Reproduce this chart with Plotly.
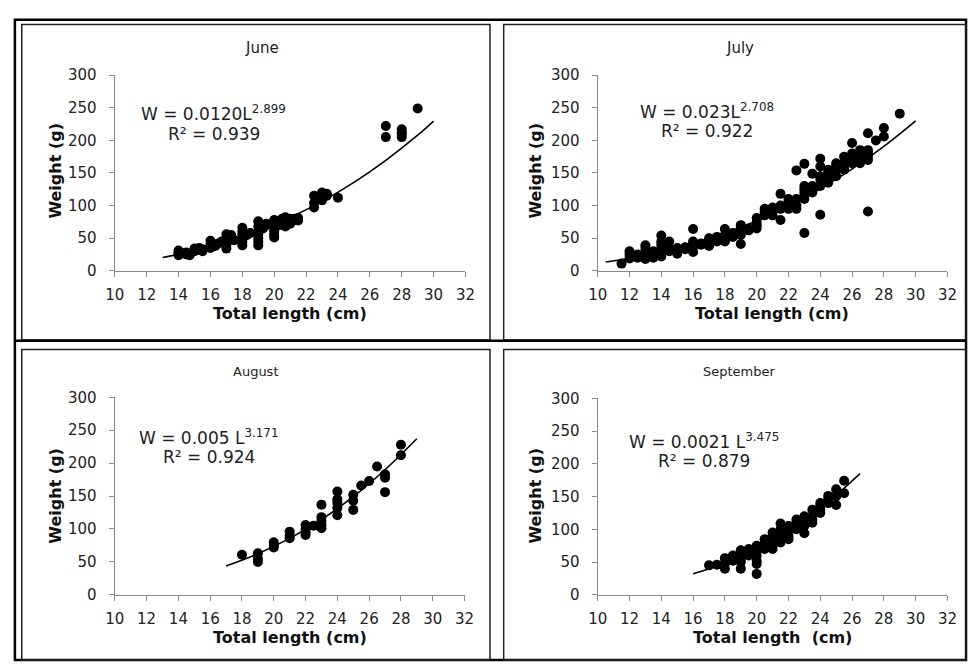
import plotly.graph_objects as go

# ---------------- data ----------------
june_len = [14, 14, 14, 14, 14.3, 14.5, 14.5, 14.7, 15, 15, 15.3, 15.3, 15.5, 15.5,
            16, 16, 16, 16.3, 16.5, 16.7, 17, 17, 17, 17, 17, 17.3, 17.3, 17.5,
            18, 18, 18, 18, 18, 18, 18.3, 18.5, 19, 19, 19, 19, 19, 19, 19, 19.3, 19.5, 19.5,
            20, 20, 20, 20, 20, 20, 20.3, 20.5, 20.5, 20.7, 20.7, 20.7, 20.7, 21, 21, 21,
            21.3, 21.3, 21.5, 21.5, 22.5, 22.5, 22.5, 23, 23, 23, 23, 23.3, 23.3, 24,
            27, 27, 28, 28, 28, 28, 29]
june_wt = [31, 24, 28, 26, 27, 25, 28, 24, 34, 30, 35, 32, 30, 33,
           46, 40, 35, 38, 42, 45, 56, 34, 40, 45, 50, 55, 48, 47,
           66, 39, 45, 50, 55, 60, 55, 58, 76, 39, 45, 50, 55, 60, 68, 65, 70, 72,
           78, 51, 55, 60, 65, 72, 70, 75, 80, 68, 72, 78, 82, 75, 80, 72,
           80, 78, 81, 77, 115, 97, 104, 120, 108, 113, 118, 118, 115, 112,
           222, 205, 217, 210, 205, 212, 249]

july_len = [11.5, 12, 12, 12, 12.5, 12.5, 13, 13, 13, 13, 13, 13.5, 13.5, 13.5,
            14, 14, 14, 14, 14, 14, 14.5, 14.5, 14.5, 15, 15, 15, 15.5, 15.5,
            16, 16, 16, 16, 16, 16.5, 16.5, 17, 17, 17, 17, 17.5, 17.5, 17.5,
            18, 18, 18, 18, 18.5, 18.5, 18.5, 19, 19, 19, 19, 19, 19.5, 19.5,
            20, 20, 20, 20, 20.5, 20.5, 20.5, 21, 21, 21, 21.5, 21.5, 21.5, 21.5,
            22, 22, 22, 22, 22.5, 22.5, 22.5, 22.5, 23, 23, 23, 23, 23, 23, 23,
            23.5, 23.5, 23.5, 23.5, 24, 24, 24, 24, 24, 24, 24.5, 24.5, 24.5, 24.5,
            25, 25, 25, 25, 25.5, 25.5, 25.5, 25.5, 26, 26, 26, 26, 26,
            26.5, 26.5, 26.5, 26.5, 27, 27, 27, 27, 27, 27, 27.5, 28, 28, 29]
july_wt = [11, 30, 19, 25, 25, 20, 39, 30, 22, 18, 35, 25, 20, 30,
           54, 45, 35, 28, 22, 40, 45, 35, 30, 26, 30, 35, 33, 36,
           64, 29, 37, 42, 45, 40, 42, 40, 45, 50, 38, 45, 48, 52,
           64, 50, 55, 45, 55, 58, 52, 70, 41, 55, 60, 65, 62, 65,
           81, 70, 75, 65, 85, 90, 95, 92, 97, 85, 118, 78, 95, 100,
           100, 105, 95, 110, 154, 110, 100, 95, 164, 58, 110, 120, 125, 130, 115,
           149, 125, 130, 120, 172, 86, 160, 145, 140, 130, 140, 150, 155, 135,
           160, 155, 145, 165, 165, 175, 160, 155, 196, 175, 170, 165, 180,
           185, 170, 165, 178, 211, 91, 180, 175, 170, 185, 200, 219, 206, 241]

aug_len = [18, 19, 19, 19, 20, 20, 20, 21, 21, 21, 22, 22, 22, 22, 22.5,
           23, 23, 23, 23, 23, 24, 24, 24, 24, 24, 25, 25, 25, 25.5, 26, 26.5,
           27, 27, 27, 28, 28]
aug_wt = [61, 63, 50, 55, 80, 75, 72, 96, 86, 90, 106, 100, 91, 95, 105,
          137, 118, 112, 101, 106, 157, 145, 140, 132, 121, 152, 143, 129, 166, 173, 195,
          183, 178, 156, 228, 212]

sep_len = [17, 17.5, 18, 18, 18, 18.5, 18.5, 19, 19, 19, 19, 19, 19.5, 19.5, 19.5,
           20, 20, 20, 20, 20, 20, 20.5, 20.5, 20.5, 20.5, 21, 21, 21, 21, 21, 21,
           21.5, 21.5, 21.5, 21.5, 21.5, 22, 22, 22, 22, 22, 22.5, 22.5, 22.5, 22.5,
           23, 23, 23, 23, 23.5, 23.5, 23.5, 23.5, 24, 24, 24, 24, 24.5, 24.5, 24.5,
           25, 25, 25, 25.5, 25.5]
sep_wt = [45, 46, 56, 40, 48, 60, 52, 40, 50, 55, 65, 68, 70, 65, 60,
          32, 47, 52, 60, 68, 75, 70, 75, 80, 85, 80, 85, 90, 95, 75, 70,
          109, 90, 95, 100, 80, 90, 95, 100, 105, 85, 105, 110, 115, 100,
          94, 105, 115, 120, 130, 120, 115, 110, 135, 125, 130, 140, 151, 140, 145,
          161, 137, 150, 174, 155]

# fitted curves as drawn on the chart
june_fit_x = [13, 15, 17, 19, 21, 23, 25, 27, 29, 30]
june_fit_y = [20.3, 30.8, 44.3, 61.2, 81.7, 106.4, 135.5, 169.4, 208, 229.6]
july_fit_x = [10.5, 13, 16, 19, 22, 25, 28, 30]
july_fit_y = [13.4, 23.9, 41.9, 66.7, 99.3, 140.4, 190.9, 230]
aug_fit_x = [17, 19, 21, 23, 25, 27, 29]
aug_fit_y = [43.9, 62.4, 85.7, 114.4, 149, 190, 237]
sep_fit_x = [16, 18, 20, 22, 24, 26.5]
sep_fit_y = [32.1, 48.3, 69.7, 97.1, 131.4, 185]

titles = ["June", "July", "August", "September"]
eq_lines = ["W = 0.0120L<sup>2.899</sup>", "W = 0.023L<sup>2.708</sup>",
            "W = 0.005 L<sup>3.171</sup>", "W = 0.0021 L<sup>3.475</sup>"]
r2_lines = ["R² = 0.939", "R² = 0.922", "R² = 0.924", "R² = 0.879"]
xlabels = ["Total length (cm)", "Total length (cm)", "Total length (cm)",
           "Total length\u00a0\u00a0(cm)"]
ylabel = "Weight (g)"
x_ticks = [10, 12, 14, 16, 18, 20, 22, 24, 26, 28, 30, 32]
y_ticks = [0, 50, 100, 150, 200, 250, 300]

# ---------------- layout helpers ----------------
W, H = 978, 671
FONT = "DejaVu Sans"


def px(x):
    return x / W


def py(y):
    return 1 - y / H


panels = [
    dict(x0=107, x1=465, yt=68, yb=269),
    dict(x0=600, x1=957, yt=68, yb=269),
    dict(x0=107, x1=464, yt=399, yb=602),
    dict(x0=600, x1=957, yt=400, yb=602),
]
series = [(june_len, june_wt, june_fit_x, june_fit_y),
          (july_len, july_wt, july_fit_x, july_fit_y),
          (aug_len, aug_wt, aug_fit_x, aug_fit_y),
          (sep_len, sep_wt, sep_fit_x, sep_fit_y)]

fig = go.Figure()
layout = dict(width=W, height=H, margin=dict(l=0, r=0, t=0, b=0),
              paper_bgcolor="white", plot_bgcolor="white", showlegend=False,
              font=dict(family=FONT, color="#222"))
annotations = []

for i, (p, (lx, wy, fx, fy)) in enumerate(zip(panels, series)):
    n = "" if i == 0 else str(i + 1)
    fig.add_trace(go.Scatter(x=fx, y=fy, mode="lines", line=dict(color="black", width=1.6, shape="spline"),
                             xaxis="x" + n, yaxis="y" + n, hoverinfo="skip"))
    fig.add_trace(go.Scatter(x=lx, y=wy, mode="markers",
                             marker=dict(color="black", size=10, symbol="circle"),
                             xaxis="x" + n, yaxis="y" + n, cliponaxis=False))
    axstyle = dict(showgrid=False, zeroline=False, showline=True, linecolor="#8a8a8a", linewidth=1.3,
                   ticks="outside", ticklen=5, tickcolor="#8a8a8a", tickwidth=1.3,
                   tickfont=dict(size=15, family=FONT, color="#222"))
    layout["xaxis" + n] = dict(axstyle, domain=[px(p["x0"]), px(p["x1"])], range=[10, 32],
                               tickvals=x_ticks, anchor="y" + n, ticklabelstandoff=5)
    layout["yaxis" + n] = dict(axstyle, domain=[py(p["yb"]), py(p["yt"])], range=[0, 300],
                               tickvals=y_ticks, anchor="x" + n, ticklabelstandoff=9)

title_pos = [(257, 40, 15), (745, 40, 15), (251, 372, 13), (745, 372, 13)]
xlab_pos = [(286, 313), (778, 313), (286, 646), (778, 646)]
ylab_pos = [(47, 166), (537, 166), (47, 500), (537, 500)]
eq_pos = [(208, 107, 128), (712, 105, 125), (203, 440, 460), (708, 444, 464)]

for i in range(4):
    tx, ty, ts = title_pos[i]
    annotations.append(dict(x=px(tx), y=py(ty), xref="paper", yref="paper", text=titles[i],
                            showarrow=False, font=dict(size=ts, family=FONT, color="#222"),
                            xanchor="center", yanchor="middle"))
    ax_, ay_ = xlab_pos[i]
    annotations.append(dict(x=px(ax_), y=py(ay_), xref="paper", yref="paper",
                            text="<b>" + xlabels[i] + "</b>", showarrow=False,
                            font=dict(size=16, family=FONT, color="#111"),
                            xanchor="center", yanchor="middle"))
    bx, by = ylab_pos[i]
    annotations.append(dict(x=px(bx), y=py(by), xref="paper", yref="paper",
                            text="<b>" + ylabel + "</b>", showarrow=False, textangle=-90,
                            font=dict(size=16, family=FONT, color="#111"),
                            xanchor="center", yanchor="middle"))
    ex, ey1, ey2 = eq_pos[i]
    annotations.append(dict(x=px(ex), y=py(ey1), xref="paper", yref="paper", text=eq_lines[i],
                            showarrow=False, font=dict(size=17, family=FONT, color="#222"),
                            xanchor="center", yanchor="middle"))
    annotations.append(dict(x=px(ex), y=py(ey2), xref="paper", yref="paper", text=r2_lines[i],
                            showarrow=False, font=dict(size=17, family=FONT, color="#222"),
                            xanchor="center", yanchor="middle"))

layout["annotations"] = annotations

shapes = []


def rect(x0, y0, x1, y1, w, c):
    shapes.append(dict(type="rect", xref="paper", yref="paper", x0=px(x0), x1=px(x1),
                       y0=py(y1), y1=py(y0), line=dict(color=c, width=w), fillcolor="rgba(0,0,0,0)",
                       layer="above"))


rect(5, 11, 976, 669, 2.5, "black")
rect(12, 16, 490, 340, 1.5, "#222")
rect(504, 16, 976, 340, 1.5, "#222")
rect(12, 350, 490, 669, 1.5, "#222")
rect(504, 350, 976, 669, 1.5, "#222")
shapes.append(dict(type="line", xref="paper", yref="paper", x0=px(5), x1=px(976),
                   y0=py(341), y1=py(341), line=dict(color="black", width=2.5)))
layout["shapes"] = shapes

fig.update_layout(**layout)
fig.write_html("out.html", config={"displayModeBar": False},
               post_script="document.body.style.margin='0';document.body.style.overflow='hidden';"
                           "document.documentElement.style.overflow='hidden';")
